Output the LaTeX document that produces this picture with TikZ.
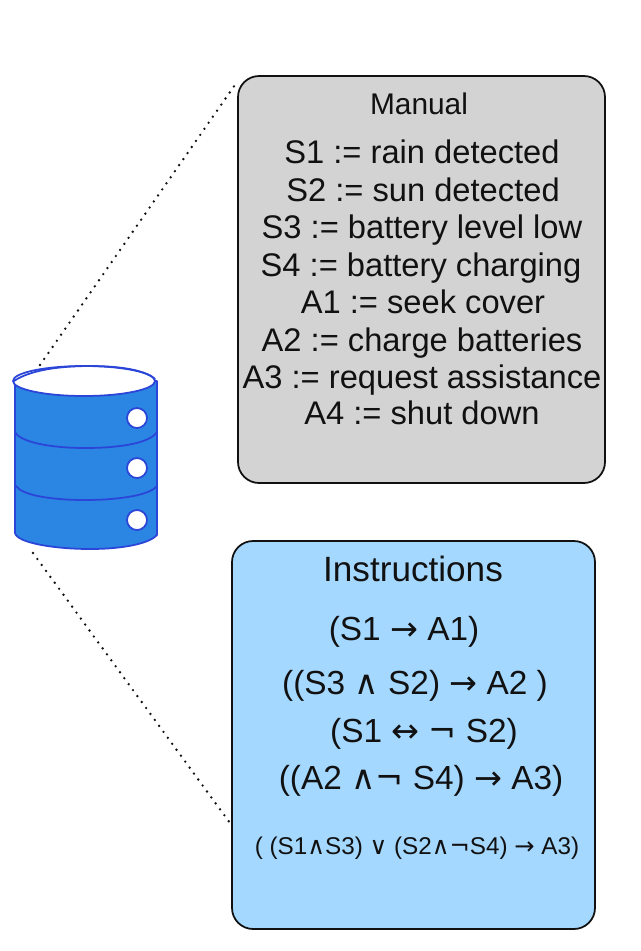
\documentclass[tikz,border=0pt]{standalone}
\usepackage{fontspec}
\setmainfont{Liberation Sans}
\newfontfamily\symfont{DejaVu Sans}
\newcommand{\sym}[1]{{\symfont #1}}
\definecolor{drumblue}{HTML}{2B85E2}
\definecolor{drumline}{HTML}{2A45D8}
\definecolor{manualgray}{HTML}{D3D3D3}
\definecolor{instrblue}{HTML}{A5D8FF}
\definecolor{inkblack}{HTML}{111111}
\tikzset{
	panel/.style={draw=inkblack, line width=1pt, rounded corners=12pt},
	textline/.style={text=inkblack, inner sep=0pt, text height=13.4pt, text depth=0pt, font=\fontsize{18.6}{22}\selectfont},
	titleline/.style={textline, text height=12.2pt, font=\fontsize{17}{20}\selectfont},
	ruleline/.style={textline, font=\fontsize{19}{22}\selectfont},
	smallline/.style={textline, text height=10pt, font=\fontsize{13.8}{16}\selectfont},
	dotline/.style={dash pattern=on 0pt off 4.2pt, line cap=round, line width=1.5pt, inkblack},
	drumedge/.style={draw=drumline, line width=1pt}
}
\begin{document}
\begin{tikzpicture}[x=0.02cm, y=-0.02cm, line join=round, line cap=round]
	\useasboundingbox (0,0) rectangle (640,951);
	% panels
	\node[panel, fill=manualgray, minimum width=367*0.02cm, minimum height=407*0.02cm] (manual) at (421.5,279.5) {};
	\node[panel, fill=instrblue, minimum width=363*0.02cm, minimum height=388*0.02cm] (instructions) at (413.5,735) {};
	% drum
	\filldraw[drumedge, fill=drumblue] (15,381) -- (15,533) .. controls (17,543) and (55,549) .. (90,549) .. controls (125,549) and (150,543) .. (157,535) -- (157,381) -- cycle;
	\draw[drumedge] (15,432) .. controls (20,442) and (50,448) .. (85,448) .. controls (120,448) and (150,443) .. (157,432);
	\draw[drumedge] (16,486) .. controls (22,495) and (50,500) .. (85,500) .. controls (120,500) and (150,495) .. (157,486);
	\filldraw[drumedge, fill=white] (84,381) ellipse (71 and 15);
	\draw[drumedge] (14,381) .. controls (30,370) and (60,366) .. (90,366) .. controls (120,366) and (145,370) .. (155,379);
	\foreach \y in {418, 468, 520} {
		\filldraw[drumedge, fill=white] (137,\y) circle (10);
	}
	\coordinate (drumtop) at (40,365);
	\coordinate (drumbottom) at (33,553);
	\coordinate (manualcorner) at (237,82);
	\coordinate (instrcorner) at (230,823);
	\draw[dotline] (drumtop) -- (manualcorner);
	\draw[dotline] (drumbottom) -- (instrcorner);
	% manual text
	\node[titleline] (manualtitle) at (419,104) {Manual};
	\node[textline] (s1) at (422,152) {S1 := rain detected};
	\node[textline] (s2) at (423,190) {S2 := sun detected};
	\node[textline] (s3) at (422,227) {S3 := battery level low};
	\node[textline] (s4) at (421,265) {S4 := battery charging};
	\node[textline] (a1) at (423,302) {A1 := seek cover};
	\node[textline] (a2) at (422,340) {A2 := charge batteries};
	\node[textline] (a3) at (422,377) {A3 := request assistance};
	\node[textline] (a4) at (422,413) {A4 := shut down};
	% instructions text
	\node[textline, text height=14pt, font=\fontsize{20}{24}\selectfont] (instrtitle) at (413,569) {Instructions};
	\node[ruleline] (rule1) at (404,629) {(S1 \sym{→} A1)};
	\node[ruleline] (rule2) at (415,683) {((S3 \sym{∧} S2) \sym{→} A2 )};
	\node[ruleline] (rule3) at (424,731) {(S1 \sym{↔} \sym{¬} S2)};
	\node[ruleline] (rule4) at (421,778) {((A2 \sym{∧}\sym{¬} S4) \sym{→} A3)};
	\node[smallline] (rule5) at (417,846) {( (S1\sym{∧}S3) \sym{∨} (S2\sym{∧}\sym{¬}S4) \sym{→} A3)};
\end{tikzpicture}
\end{document}
